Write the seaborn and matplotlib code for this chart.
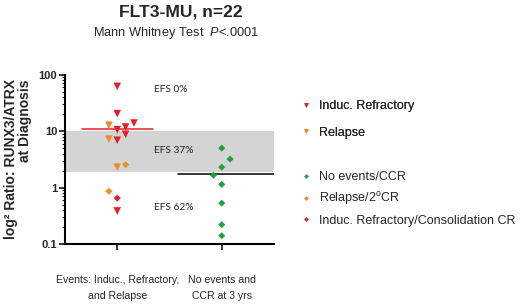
import matplotlib
matplotlib.use('Agg')
import matplotlib.pyplot as plt
from matplotlib.lines import Line2D
import pandas as pd
import seaborn as sns

# Values (ratio at diagnosis, log scale)
group_labels = ['Events: Induc., Refractory,\nand Relapse', 'No events and\nCCR at 3 yrs']
categories = ['Induc. Refractory', 'Relapse', 'No events/CCR', 'Relapse/2$^{\\rm o}$CR',
              'Induc. Refractory/Consolidation CR']

ir_vals = [62, 20.4, 10.6, 11.8, 13.9, 8.8, 6.9, 0.385]
ir_slot = [0, 0, 0, 1, 2, 1, 0, 0]
rel_vals = [12.7, 7.2, 2.3]
rel_slot = [-1, -1, 0]
rel2cr_vals = [2.55, 0.86]
rel2cr_slot = [1, -1]
ircr_vals = [0.65]
ircr_slot = [0]
ccr_vals = [5.0, 3.2, 2.3, 1.65, 1.14, 0.53, 0.22, 0.14]
ccr_slot = [0, 1, 0, -1, 0, 0, 0, 0]

medians = [11.1, 1.77]
band = [1.88, 10]
efs_labels = ['EFS 0%', 'EFS 37%', 'EFS 62%']
efs_y = [55, 4.6, 0.45]

colors = {
    'Induc. Refractory': '#e41f26',
    'Relapse': '#f28a24',
    'No events/CCR': '#23a03a',
    'Relapse/2$^{\\rm o}$CR': '#e8902a',
    'Induc. Refractory/Consolidation CR': '#e41f26',
}
markers = {
    'Induc. Refractory': 'v',
    'Relapse': 'v',
    'No events/CCR': 'D',
    'Relapse/2$^{\\rm o}$CR': 'D',
    'Induc. Refractory/Consolidation CR': 'D',
}

sns.set_style('ticks')
plt.rcParams['font.family'] = ['Liberation Sans', 'DejaVu Sans']
plt.rcParams['mathtext.fontset'] = 'custom'
plt.rcParams['mathtext.rm'] = 'Liberation Sans'
plt.rcParams['mathtext.it'] = 'Liberation Sans:italic'

# Build the table
step = 0.08
rows = []
for cat, vals, slots, grp in [
    ('Induc. Refractory', ir_vals, ir_slot, 0),
    ('Relapse', rel_vals, rel_slot, 0),
    ('Relapse/2$^{\\rm o}$CR', rel2cr_vals, rel2cr_slot, 0),
    ('Induc. Refractory/Consolidation CR', ircr_vals, ircr_slot, 0),
    ('No events/CCR', ccr_vals, ccr_slot, 1),
]:
    for v, s in zip(vals, slots):
        rows.append({'x': grp + s * step, 'ratio': v, 'category': cat})
df = pd.DataFrame(rows)

fig = plt.figure(figsize=(5.2, 3.08), dpi=100)
ax = fig.add_axes([0.125, 0.2078, 0.4019, 0.5497])

ax.axhspan(band[0], band[1], color='#d4d4d4', lw=0, zorder=0)

tri = df[df['category'].map(markers) == 'v']
dia = df[df['category'].map(markers) == 'D']
sns.scatterplot(data=tri, x='x', y='ratio', hue='category', palette=colors,
                marker='v', s=30, linewidth=0, legend=False, ax=ax, zorder=3)
sns.scatterplot(data=dia, x='x', y='ratio', hue='category', palette=colors,
                marker='D', s=13, linewidth=0, legend=False, ax=ax, zorder=3)

ax.plot([-0.34, 0.34], [medians[0]] * 2, color='#e41f26', lw=1.1, zorder=2)
ax.plot([0.58, 1.5], [medians[1]] * 2, color='black', lw=1.1, zorder=2)

for lab, y in zip(efs_labels, efs_y):
    ax.text(0.35, y, lab, fontsize=7.3, family='Lato', color='#222222', va='center', ha='left')

ax.set_yscale('log')
ax.set_ylim(0.1, 100)
ax.set_xlim(-0.5, 1.5)
ax.set_xticks([0, 1])
ax.set_xticklabels(group_labels, fontsize=7.6, linespacing=1.85)
ax.set_yticks([0.1, 1, 10, 100])
ax.set_yticklabels(['0.1', '1', '10', '100'], fontsize=8, fontweight='bold')
ax.tick_params(axis='x', length=4, width=1.3, pad=18)
ax.tick_params(axis='y', which='major', length=4, width=1.3, pad=1.5)
ax.tick_params(axis='y', which='minor', length=2, width=0.8)
ax.set_xlabel('')
ax.set_ylabel('log² Ratio: RUNX3/ATRX\nat Diagnosis', fontsize=10, fontweight='bold',
              multialignment='right', labelpad=5, linespacing=1.0)
for side in ['top', 'right']:
    ax.spines[side].set_visible(False)
for side in ['left', 'bottom']:
    ax.spines[side].set_linewidth(1.5)
    ax.spines[side].set_color('black')

fig.text(0.3475, 0.9458, 'FLT3-MU, n=22', fontsize=12.6, fontweight='bold',
         ha='center', va='baseline')
fig.text(0.338, 0.882, 'Mann Whitney Test  $\\it{P}$<.0001', fontsize=9.2, ha='center', va='baseline')


# Legends (two blocks, as in the reference)
def handle(cat):
    return Line2D([], [], marker=markers[cat], color=colors[cat], linestyle='none',
                  markersize=3.3 if markers[cat] == 'v' else 2.5, markeredgewidth=0)


leg_kw = dict(loc='center left', frameon=False, fontsize=9, handlelength=1.0,
              handletextpad=0.55, borderpad=0, borderaxespad=0)
leg1 = fig.legend([handle(c) for c in categories[:2]], categories[:2],
                  bbox_to_anchor=(0.576, 0.612), labelspacing=1.15, **leg_kw)
leg2 = fig.legend([handle(c) for c in categories[2:]], categories[2:],
                  bbox_to_anchor=(0.576, 0.354), labelspacing=0.58, **leg_kw)
fig.add_artist(leg1)

fig.savefig('out.png', dpi=100)
